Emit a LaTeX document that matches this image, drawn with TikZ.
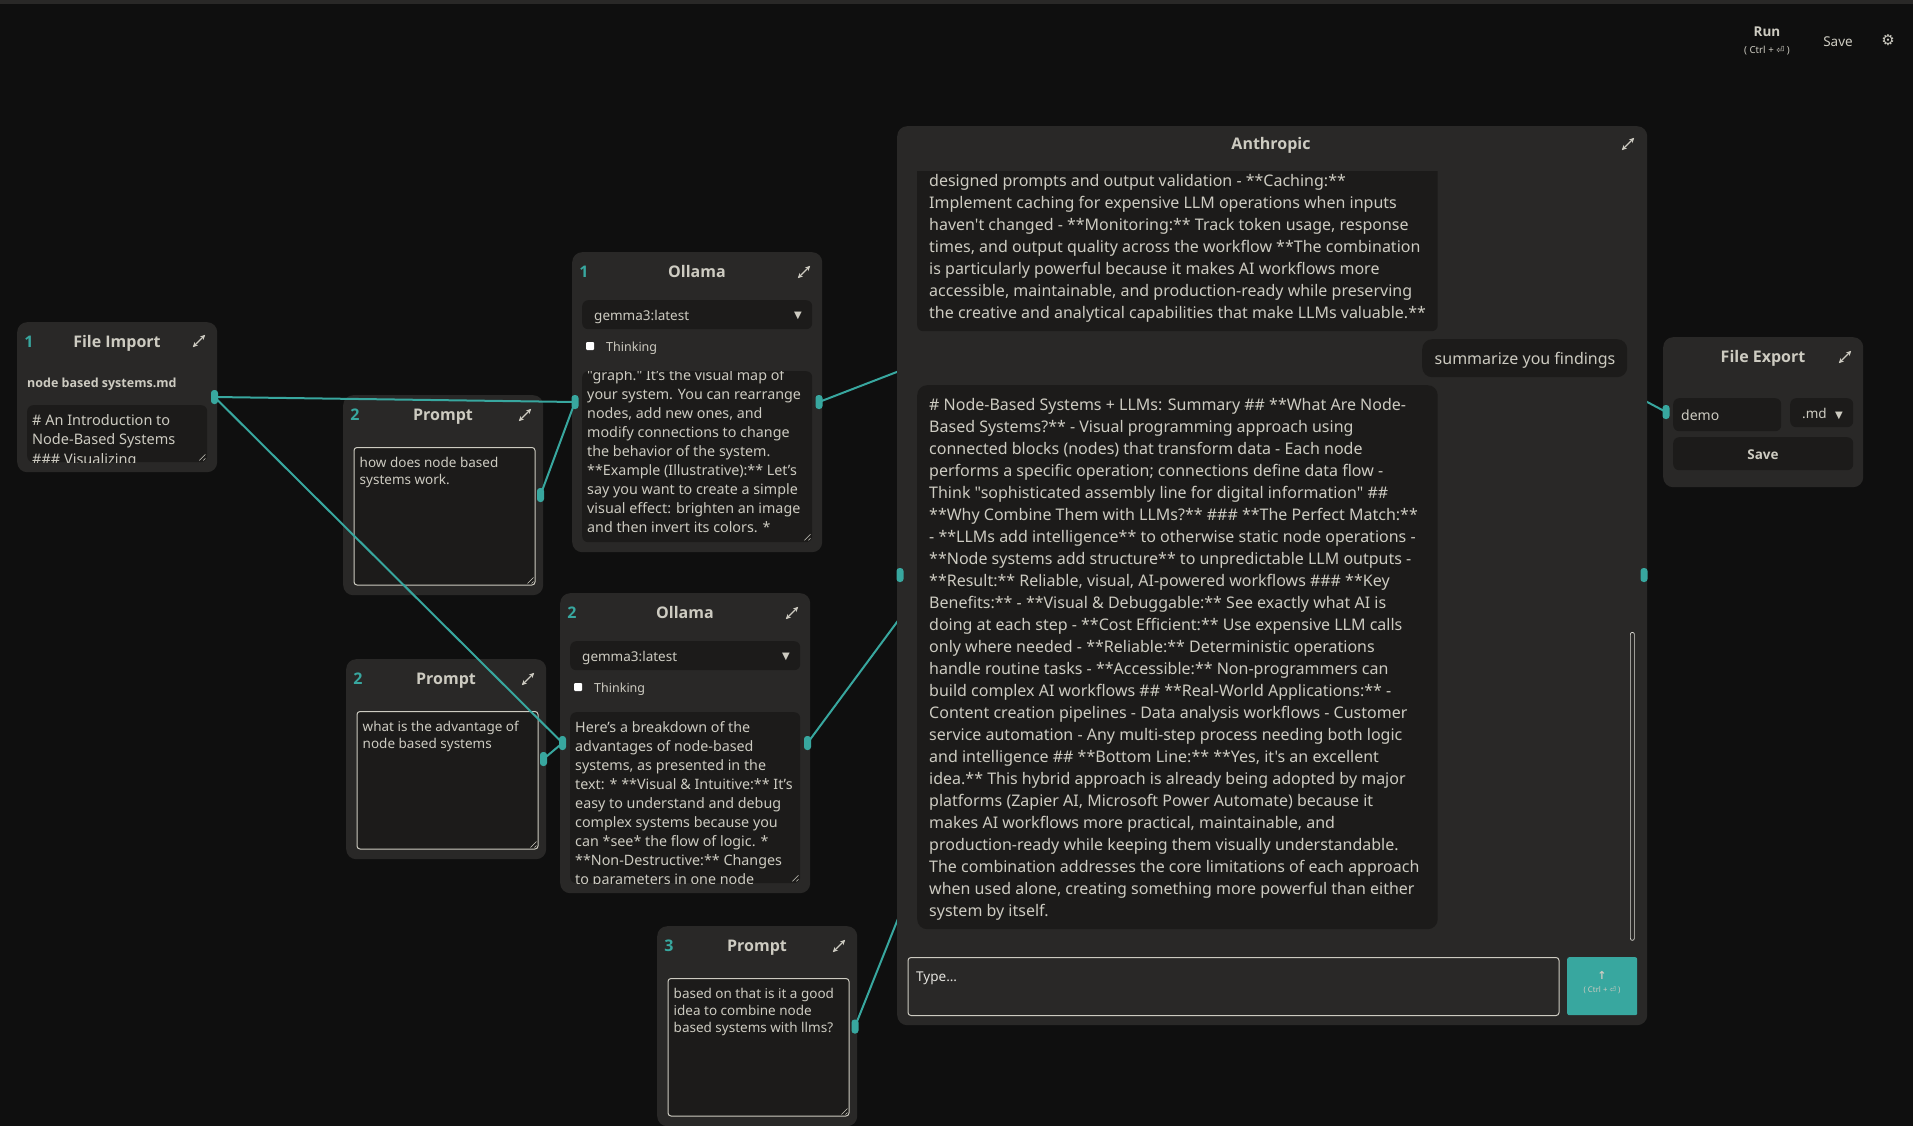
\documentclass[tikz,border=0pt]{standalone}
\usepackage{fontspec}
\setmainfont{Noto Sans}[BoldFont={Open Sans Bold}]
\newfontfamily\symfont{DejaVu Sans}
\newfontfamily\chatfont{Noto Sans}
\usepackage{tikz}
\usetikzlibrary{arrows.meta}

\definecolor{canvasbg}{HTML}{0F0F0F}
\definecolor{panelbg}{HTML}{292827}
\definecolor{fieldbg}{HTML}{1C1B1A}
\definecolor{inktext}{HTML}{CDCBC1}
\definecolor{tealwire}{HTML}{38A79F}

\tikzset{
  wh/.style 2 args={minimum width=#1pt, minimum height=#2pt},
  panel/.style={anchor=north west, fill=panelbg, rounded corners=10pt, inner sep=0pt},
  field/.style={anchor=north west, fill=fieldbg, rounded corners=6pt, inner sep=0pt},
  inputbox/.style={anchor=north west, fill=fieldbg, draw=inktext, line width=1pt, rounded corners=3pt, inner sep=0pt},
  paneltitle/.style={text=inktext, anchor=base, font=\fontsize{16}{19}\selectfont\bfseries, inner sep=0pt},
  badge/.style={text=tealwire, anchor=base, font=\fontsize{16}{19}\selectfont\bfseries, inner sep=0pt},
  growicon/.style={inner sep=0pt, minimum width=12pt, minimum height=12pt},
  growline/.style={draw=inktext, line width=1.3pt, {Stealth[length=5pt,width=5pt]}-{Stealth[length=5pt,width=5pt]}},
  plain/.style={text=inktext, anchor=base west, inner sep=0pt, font=\fontsize{13.5}{17}\selectfont},
  para/.style={text=inktext, anchor=north west, align=left, inner sep=0pt},
  handle/.style={fill=tealwire, rounded corners=3pt, inner sep=0pt, minimum width=7pt, minimum height=14pt},
  wire/.style={draw=tealwire, line width=2pt},
  tick/.style={text=inktext, font=\symfont\fontsize{10}{10}\selectfont, inner sep=0pt},
  grip/.style={draw=inktext, line width=0.6pt}
}
\newcommand{\gripmark}[1]{
\draw[grip] ([shift={(-8,-2)}]#1.south east) -- ([shift={(-2,-8)}]#1.south east);
\draw[grip] ([shift={(-4,-2)}]#1.south east) -- ([shift={(-2,-4)}]#1.south east);
}
\newcommand{\growmark}[1]{
\draw[growline] (#1.south west) -- (#1.north east);
}

\begin{document}
\begin{tikzpicture}[x=1pt,y=-1pt]
\useasboundingbox (0,0) rectangle (1913,1126);
\fill[canvasbg] (0,0) rectangle (1913,1126);
\fill[panelbg] (0,0) rectangle (1913,4);

% toolbar
\node[paneltitle, font=\fontsize{13.5}{16}\selectfont\bfseries] (runlabel) at (1767,37) {Run};
\node[text=inktext, inner sep=0pt, font=\fontsize{9.7}{11}\selectfont] (runkeys) at (1767,51) {( Ctrl + {\symfont ⏎} )};
\node[text=inktext, inner sep=0pt, font=\fontsize{13.5}{16}\selectfont] (savetop) at (1838,41.5) {Save};
\node[tick, font=\symfont\fontsize{15}{15}\selectfont] (gear) at (1888,40) {⚙};

% file import
\node[panel, wh={200}{150}] (import) at (17,322) {};
\node[badge] (importnum) at (29,347) {1};
\node[paneltitle] (importtitle) at (117,347) {File Import};
\node[growicon] (importgrow) at (199,341) {};
\growmark{importgrow}
\node[plain, font=\fontsize{12.5}{15}\selectfont\bfseries] (importname) at (27,387) {node based systems.md};
\node[field, wh={180}{57}] (importarea) at (27,405) {};
\begin{scope}
\clip (27,405) rectangle (207,462);
\node[para, font=\fontsize{14.5}{19.5}\selectfont] (importtext) at (32,414) {\# An Introduction to\\Node-Based Systems\\\#\#\# Visualizing};
\end{scope}
\gripmark{importarea}
\node[handle] (importout) at (214.5,397) {};

% prompts
\node[panel, wh={200}{200}] (prompta) at (343,395) {};
\node[badge] (promptanum) at (355,420) {2};
\node[paneltitle] (promptatitle) at (443,420) {Prompt};
\node[growicon] (promptagrow) at (525,415) {};
\growmark{promptagrow}
\node[inputbox, wh={181}{137.5}] (promptaarea) at (353.5,447) {};
\node[para, font=\fontsize{13.5}{17}\selectfont] (promptatext) at (359.5,457) {how does node based\\systems work.};
\gripmark{promptaarea}
\node[handle] (promptaout) at (540.5,495) {};

\node[panel, wh={200}{200}] (promptb) at (346,659) {};
\node[badge] (promptbnum) at (358,684) {2};
\node[paneltitle] (promptbtitle) at (446,684) {Prompt};
\node[growicon] (promptbgrow) at (528,679) {};
\growmark{promptbgrow}
\node[inputbox, wh={181}{137.5}] (promptbarea) at (356.5,711) {};
\node[para, font=\fontsize{13.5}{17}\selectfont] (promptbtext) at (362.5,721) {what is the advantage of\\node based systems};
\gripmark{promptbarea}
\node[handle] (promptbout) at (543.5,759) {};

\node[panel, wh={200}{200}] (promptc) at (657,926) {};
\node[badge] (promptcnum) at (669,951) {3};
\node[paneltitle] (promptctitle) at (757,951) {Prompt};
\node[growicon] (promptcgrow) at (839,946) {};
\growmark{promptcgrow}
\node[inputbox, wh={181}{137.5}] (promptcarea) at (667.5,978) {};
\node[para, font=\fontsize{13.5}{17}\selectfont] (promptctext) at (673.5,988) {based on that is it a good\\idea to combine node\\based systems with llms?};
\gripmark{promptcarea}
\node[handle] (promptcout) at (855,1026.5) {};

% ollama 1
\node[panel, wh={250}{300}] (ollamaa) at (572,252) {};
\node[badge] (ollamaanum) at (584,277) {1};
\node[paneltitle] (ollamaatitle) at (697,277) {Ollama};
\node[growicon] (ollamaagrow) at (804,272) {};
\growmark{ollamaagrow}
\node[field, wh={230}{29}] (ollamaasel) at (582,300) {};
\node[plain] (ollamaamodel) at (594,320) {gemma3:latest};
\node[tick] (ollamaatri) at (798,316) {▼};
\node[fill=white, rounded corners=1pt, inner sep=0pt, minimum width=8pt, minimum height=8pt] (ollamaacheck) at (590,346) {};
\node[plain, font=\fontsize{12.5}{15}\selectfont] (ollamaathink) at (606,351) {Thinking};
\node[field, wh={230}{171}] (ollamaaarea) at (582,371) {};
\begin{scope}
\clip (582,371) rectangle (812,542);
\node[para, font=\fontsize{14.3}{19}\selectfont] (ollamaatext) at (587,369.5) {{\chatfont"graph."} It's the visual map of\\your system. You can rearrange\\nodes, add new ones, and\\modify connections to change\\the behavior of the system.\\**Example (Illustrative):** Let's\\say you want to create a simple\\visual effect: brighten an image\\and then invert its colors. *};
\end{scope}
\gripmark{ollamaaarea}
\node[handle] (ollamaain) at (575,402) {};
\node[handle] (ollamaaout) at (819,402) {};

% ollama 2
\node[panel, wh={250}{300}] (ollamab) at (560,593) {};
\node[badge] (ollamabnum) at (572,618) {2};
\node[paneltitle] (ollamabtitle) at (685,618) {Ollama};
\node[growicon] (ollamabgrow) at (792,613) {};
\growmark{ollamabgrow}
\node[field, wh={230}{29}] (ollamabsel) at (570,641) {};
\node[plain] (ollamabmodel) at (582,661) {gemma3:latest};
\node[tick] (ollamabtri) at (786,657) {▼};
\node[fill=white, rounded corners=1pt, inner sep=0pt, minimum width=8pt, minimum height=8pt] (ollamabcheck) at (578,687) {};
\node[plain, font=\fontsize{12.5}{15}\selectfont] (ollamabthink) at (594,692) {Thinking};
\node[field, wh={230}{171}] (ollamabarea) at (570,712) {};
\begin{scope}
\clip (570,712) rectangle (800,883);
\node[para, font=\fontsize{14.3}{19}\selectfont] (ollamabtext) at (575,721) {Here's a breakdown of the\\advantages of node-based\\systems, as presented in the\\text: * **Visual \& Intuitive:** It's\\easy to understand and debug\\complex systems because you\\can *see* the flow of logic. *\\**Non-Destructive:** Changes\\to parameters in one node};
\end{scope}
\gripmark{ollamabarea}
\node[handle] (ollamabin) at (562.5,743) {};
\node[handle] (ollamabout) at (807.5,743) {};

% file export
\node[panel, wh={200}{150}] (export) at (1663,337) {};
\node[paneltitle] (exporttitle) at (1763,362) {File Export};
\node[growicon] (exportgrow) at (1845,357) {};
\growmark{exportgrow}
\node[field, wh={108}{33}] (exportname) at (1673,398) {};
\node[plain, font=\fontsize{14}{17}\selectfont] (exportdemo) at (1681,420.5) {demo};
\node[field, wh={63}{29}] (exportsel) at (1790,398) {};
\node[plain] (exportext) at (1802,418) {.md};
\node[tick] (exporttri) at (1839,416) {▼};
\node[field, wh={180}{33}] (exportbtn) at (1673,437) {};
\node[paneltitle, font=\fontsize{13.5}{16}\selectfont\bfseries] (exportsave) at (1763,459) {Save};
\node[handle] (exportin) at (1666,412) {};

% wires
\coordinate (chatin) at (1156,272);
\coordinate (chatout) at (1403,272);
\draw[wire] (importout.center) -- (ollamaain.center);
\draw[wire] (importout.center) -- (ollamabin.center);
\draw[wire] (promptaout.center) -- (ollamaain.center);
\draw[wire] (promptbout.center) -- (ollamabin.center);
\draw[wire] (ollamaaout.center) -- (chatin);
\draw[wire] (ollamabout.center) -- (chatin);
\draw[wire] (promptcout.center) -- (chatin);
\draw[wire] (chatout) -- (exportin.center);

% anthropic
\node[panel, wh={750}{899}] (chat) at (897,126) {};
\node[paneltitle] (chattitle) at (1271,150) {Anthropic};
\node[growicon] (chatgrow) at (1628,144) {};
\growmark{chatgrow}
\node[handle] (chatleft) at (900,575) {};
\node[handle] (chatright) at (1644,575) {};
\begin{scope}
\clip (897,172) rectangle (1647,1025);
\node[field, wh={520.5}{170}] (bubblea) at (917,161) {};
\end{scope}
\node[para, font=\chatfont\fontsize{16}{22}\selectfont] (bubbleatext) at (929,174) {designed prompts and output validation - **Caching:**\\Implement caching for expensive LLM operations when inputs\\haven't changed - **Monitoring:** Track token usage, response\\times, and output quality across the workflow **The combination\\is particularly powerful because it makes AI workflows more\\accessible, maintainable, and production-ready while preserving\\the creative and analytical capabilities that make LLMs valuable.**};
\node[field, rounded corners=10pt, wh={205}{38}] (bubbleuser) at (1422,339) {};
\node[plain, font=\chatfont\fontsize{16}{22}\selectfont] (bubbleusertext) at (1434.5,364) {summarize you findings};
\node[field, rounded corners=10pt, wh={520.5}{544}] (bubbleb) at (917,385) {};
\node[para, font=\chatfont\fontsize{16}{22}\selectfont] (bubblebtext) at (929,398) {\# Node-Based Systems + LLMs: Summary \#\# **What Are Node-\\Based Systems?** - Visual programming approach using\\connected blocks (nodes) that transform data - Each node\\performs a specific operation; connections define data flow -\\Think "sophisticated assembly line for digital information" \#\#\\**Why Combine Them with LLMs?** \#\#\# **The Perfect Match:**\\- **LLMs add intelligence** to otherwise static node operations -\\**Node systems add structure** to unpredictable LLM outputs -\\**Result:** Reliable, visual, AI-powered workflows \#\#\# **Key\\Benefits:** - **Visual \& Debuggable:** See exactly what AI is\\doing at each step - **Cost Efficient:** Use expensive LLM calls\\only where needed - **Reliable:** Deterministic operations\\handle routine tasks - **Accessible:** Non-programmers can\\build complex AI workflows \#\# **Real-World Applications:** -\\Content creation pipelines - Data analysis workflows - Customer\\service automation - Any multi-step process needing both logic\\and intelligence \#\# **Bottom Line:** **Yes, it's an excellent\\idea.** This hybrid approach is already being adopted by major\\platforms (Zapier AI, Microsoft Power Automate) because it\\makes AI workflows more practical, maintainable, and\\production-ready while keeping them visually understandable.\\The combination addresses the core limitations of each approach\\when used alone, creating something more powerful than either\\system by itself.};
\node[anchor=north west, draw=inktext!70, line width=0.7pt, rounded corners=2pt, inner sep=0pt, wh={4}{308}] (scrollbar) at (1630,632) {};
\node[anchor=north west, draw=inktext, line width=1pt, rounded corners=3pt, inner sep=0pt, wh={651}{58}] (typebox) at (907.5,957) {};
\node[plain, text=inktext!55, font=\fontsize{13.5}{17}\selectfont] (typehint) at (916,981) {Type...};
\node[anchor=north west, fill=tealwire, rounded corners=2pt, inner sep=0pt, wh={70}{58}] (sendbtn) at (1567,957) {};
\node[tick, font=\symfont\bfseries\fontsize{11}{11}\selectfont] (sendarrow) at (1602,975) {↑};
\node[text=inktext, inner sep=0pt, font=\fontsize{7.8}{9}\selectfont] (sendkeys) at (1602,990) {( Ctrl + {\symfont ⏎} )};
\end{tikzpicture}
\end{document}
